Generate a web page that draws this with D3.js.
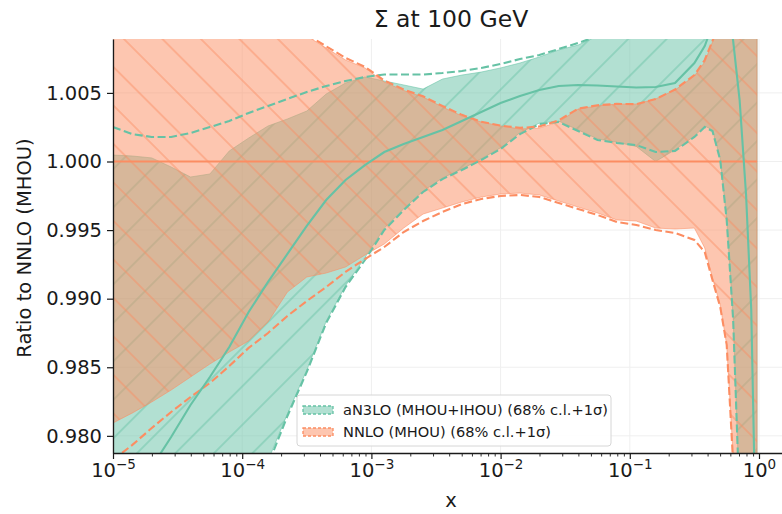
<!DOCTYPE html>
<html>
<head>
<meta charset="utf-8">
<script src="https://cdn.jsdelivr.net/npm/d3@7"></script>
<style>
  html, body { margin: 0; padding: 0; background: #fff; }
  svg { display: block; font-family: "DejaVu Sans", sans-serif; }
</style>
</head>
<body>
<svg id="chart" width="782" height="514"></svg>
<script>
// ---- data: ratio of the singlet Σ at Q = 100 GeV to the NNLO (MHOU) central value ----
const logX = [-5.00, -4.85, -4.70, -4.55, -4.40, -4.25, -4.10, -3.95, -3.80, -3.65,
              -3.50, -3.35, -3.20, -3.05, -2.90, -2.75, -2.60, -2.45, -2.30, -2.15,
              -2.00, -1.85, -1.70, -1.55, -1.40, -1.25, -1.10, -0.95, -0.80, -0.65,
              -0.50, -0.42, -0.36, -0.30, -0.25, -0.20, -0.15, -0.10, -0.06, -0.03, -0.015];

// NNLO (MHOU): 68% c.l. band and 1σ band
const nnloHi68 = [1.0160, 1.0155, 1.0150, 1.0143, 1.0136, 1.0128, 1.0120, 1.0112, 1.0104, 1.0096,
                  1.00915, 1.00827, 1.00740, 1.00682, 1.00579, 1.00518, 1.00470, 1.00397, 1.00332, 1.00288,
                  1.00259, 1.00237, 1.00244, 1.00288, 1.00383, 1.00405, 1.00419, 1.00419, 1.00456, 1.00521,
                  1.00623, 1.00725, 1.00871, 1.0100, 1.0110, 1.0120, 1.0130, 1.0140, 1.0150, 1.0160, 1.0170];
const nnloLo68 = [0.98094, 0.98167, 0.98247, 0.98334, 0.98429, 0.98524, 0.98611, 0.98692, 0.98830, 0.99049,
                  0.99158, 0.99187, 0.99231, 0.99318, 0.99399, 0.99515, 0.99617, 0.99661, 0.99705, 0.99741,
                  0.99763, 0.99770, 0.99756, 0.99712, 0.99668, 0.99625, 0.99574, 0.99566, 0.99515, 0.99508,
                  0.99515, 0.99370, 0.99151, 0.98954, 0.98663, 0.9785, 0.9700, 0.9600, 0.9500, 0.9400, 0.9350];
const nnloHi1s = [1.0165, 1.0160, 1.0155, 1.0148, 1.0141, 1.0133, 1.0125, 1.0117, 1.0108, 1.0100,
                  1.00925, 1.00840, 1.00755, 1.00690, 1.00590, 1.00525, 1.00475, 1.00405, 1.00340, 1.00290,
                  1.00262, 1.00245, 1.00255, 1.00300, 1.00385, 1.00410, 1.00420, 1.00418, 1.00455, 1.00525,
                  1.00630, 1.00740, 1.00880, 1.0102, 1.0112, 1.0122, 1.0132, 1.0142, 1.0152, 1.0162, 1.0172];
const nnloLo1s = [0.97824, 0.97934, 0.98057, 0.98174, 0.98283, 0.98385, 0.98509, 0.98641, 0.98750, 0.98874,
                  0.98983, 0.99085, 0.99195, 0.99289, 0.99377, 0.99486, 0.99566, 0.99632, 0.99690, 0.99727,
                  0.99749, 0.99756, 0.99741, 0.99698, 0.99654, 0.99610, 0.99559, 0.99537, 0.99501, 0.99479,
                  0.99428, 0.99340, 0.99136, 0.98939, 0.98663, 0.9780, 0.9700, 0.9600, 0.9500, 0.9400, 0.9350];
const nnloCentral = 1.0;

// aN3LO (MHOU+IHOU): central value, 68% c.l. band and 1σ band
const n3loCentral = [0.9735, 0.97591, 0.97773, 0.97992, 0.98225, 0.98429, 0.98648, 0.98903, 0.99122, 0.99326,
                     0.99530, 0.99719, 0.99865, 0.99974, 1.00069, 1.00128, 1.00179, 1.00230, 1.00295, 1.00361,
                     1.00426, 1.00477, 1.00521, 1.00550, 1.00558, 1.00554, 1.00547, 1.00539, 1.00543, 1.00572,
                     1.00718, 1.00842, 1.00995, 1.0115, 1.0118, 1.0088, 1.00448, 0.99756, 0.98918, 0.9750, 0.9700];
const n3loHi68 = [1.00047, 1.00040, 1.00026, 0.99960, 0.99887, 0.99909, 1.00077, 1.00171, 1.00259, 1.00310,
                  1.00368, 1.00492, 1.00572, 1.00616, 1.00587, 1.00558, 1.00528, 1.00601, 1.00630, 1.00652,
                  1.00682, 1.00718, 1.00762, 1.00813, 1.00849, 1.00915, 1.0098, 1.0104, 1.0110, 1.0116,
                  1.0122, 1.0128, 1.0132, 1.0136, 1.0140, 1.0145, 1.0150, 1.0156, 1.0162, 1.0168, 1.0172];
const n3loLo68 = [0.956, 0.958, 0.960, 0.962, 0.965, 0.968, 0.971, 0.9748, 0.9782, 0.98160,
                  0.98480, 0.98835, 0.99095, 0.99300, 0.99515, 0.99655, 0.99785, 0.99880, 0.99945, 1.00020,
                  1.00100, 1.00210, 1.00280, 1.00295, 1.00230, 1.00165, 1.00140, 1.00110, 1.00000, 1.00085,
                  1.00185, 1.00258, 1.00230, 1.00020, 0.99580, 0.98855, 0.9752, 0.9702, 0.9652, 0.9602, 0.9582];
const n3loHi1s = [1.00251, 1.00200, 1.00179, 1.00179, 1.00208, 1.00251, 1.00295, 1.00354, 1.00405, 1.00456,
                  1.00507, 1.00550, 1.00587, 1.00616, 1.00634, 1.00634, 1.00634, 1.00645, 1.00660, 1.00682,
                  1.00711, 1.00747, 1.00776, 1.00820, 1.00864, 1.00915, 1.0099, 1.0105, 1.0111, 1.0117,
                  1.0123, 1.0129, 1.0133, 1.0137, 1.0141, 1.0146, 1.0151, 1.0157, 1.0163, 1.0169, 1.0173];
const n3loLo1s = [0.955, 0.957, 0.959, 0.961, 0.964, 0.967, 0.970, 0.97423, 0.97788, 0.98145,
                  0.98466, 0.98823, 0.99085, 0.99282, 0.99501, 0.99646, 0.99778, 0.99872, 0.99938, 1.00011,
                  1.00091, 1.00200, 1.00273, 1.00288, 1.00222, 1.00157, 1.00135, 1.00120, 1.00069, 1.00077,
                  1.00179, 1.00251, 1.00222, 1.00011, 0.99574, 0.98845, 0.9750, 0.9700, 0.9650, 0.9600, 0.9580];

const yTicks = [0.980, 0.985, 0.990, 0.995, 1.000, 1.005];
const xTickExps = [-5, -4, -3, -2, -1, 0];
const seriesLabels = ["aN3LO (MHOU+IHOU) (68% c.l.+1σ)", "NNLO (MHOU) (68% c.l.+1σ)"];
const titleText = "Σ at 100 GeV";
const xLabel = "x";
const yLabel = "Ratio to NNLO (MHOU)";

const GREEN = "#66c2a5", ORANGE = "#fc8d62";

// ---- layout ----
const svg = d3.select("#chart");
const L = 113, T = 39, R = 789, B = 453;
const x = d3.scaleLog().domain([1e-5, Math.pow(10, 0.2322)]).range([L, R]);
const y = d3.scaleLinear().domain([0.97875, 1.00893]).range([B, T]);
const xs = logX.map(l => Math.pow(10, l));

const defs = svg.append("defs");
defs.append("clipPath").attr("id", "plotClip")
  .append("rect").attr("x", L).attr("y", T).attr("width", R - L).attr("height", B - T);

function hatch(id, color, angle, shift) {
  const s = 27.22;
  const p = defs.append("pattern").attr("id", id)
    .attr("patternUnits", "userSpaceOnUse")
    .attr("width", s).attr("height", s)
    .attr("patternTransform", `translate(${shift},0) rotate(${angle})`);
  p.append("line").attr("x1", s / 2).attr("x2", s / 2).attr("y1", -2).attr("y2", s + 2)
    .attr("stroke", color).attr("stroke-width", 1).attr("stroke-opacity", 0.85);
}
hatch("hatchGreen", GREEN, 45, -6.5);    // "/" hatching
hatch("hatchOrange", ORANGE, -45, -11.3); // "\" hatching

// ---- grid ----
const grid = svg.append("g").attr("stroke", "#efefef").attr("stroke-width", 1);
xTickExps.forEach(e => grid.append("line")
  .attr("x1", x(Math.pow(10, e))).attr("x2", x(Math.pow(10, e))).attr("y1", T).attr("y2", B));
yTicks.forEach(v => grid.append("line")
  .attr("x1", L).attr("x2", R).attr("y1", y(v)).attr("y2", y(v)));

const plot = svg.append("g").attr("clip-path", "url(#plotClip)");

function band(lo, hi, color, hatchId) {
  const area = d3.area().x((d, i) => x(xs[i])).y0((d, i) => y(lo[i])).y1((d, i) => y(hi[i]));
  plot.append("path").attr("d", area(xs))
    .attr("fill", color).attr("fill-opacity", 0.5)
    .attr("stroke", color).attr("stroke-opacity", 0.55).attr("stroke-width", 1);
  plot.append("path").attr("d", area(xs)).attr("fill", `url(#${hatchId})`);
}
band(n3loLo68, n3loHi68, GREEN, "hatchGreen");
band(nnloLo68, nnloHi68, ORANGE, "hatchOrange");

const lineOf = vals => d3.line().x((d, i) => x(xs[i])).y((d, i) => y(vals[i]))(xs);

// NNLO central (ratio to itself)
plot.append("line")
  .attr("x1", x(xs[0])).attr("x2", x(xs[xs.length - 1]))
  .attr("y1", y(nnloCentral)).attr("y2", y(nnloCentral))
  .attr("stroke", ORANGE).attr("stroke-width", 2);

const dashed = [[n3loHi1s, GREEN], [n3loLo1s, GREEN], [nnloHi1s, ORANGE], [nnloLo1s, ORANGE]];
dashed.forEach(([vals, c]) => plot.append("path").attr("d", lineOf(vals))
  .attr("fill", "none").attr("stroke", c).attr("stroke-width", 2.1)
  .attr("stroke-dasharray", "8,3.5"));

plot.append("path").attr("d", lineOf(n3loCentral))
  .attr("fill", "none").attr("stroke", GREEN).attr("stroke-width", 2.1);

// ---- axes ----
const TXT = "#1a1a1a";
const yAxis = svg.append("g").attr("transform", `translate(${L},0)`)
  .call(d3.axisLeft(y).tickValues(yTicks).tickFormat(d3.format(".3f"))
        .tickSize(6).tickSizeOuter(0).tickPadding(5));
yAxis.select(".domain").attr("stroke", TXT).attr("stroke-width", 1.3);
yAxis.selectAll(".tick line").attr("stroke", TXT).attr("stroke-width", 1.2);
yAxis.selectAll(".tick text").attr("font-size", 19.5).attr("fill", TXT)
  .attr("font-family", "DejaVu Sans");

const minorTicks = [];
for (let e = -5; e <= 0; e++) for (let m = 2; m <= 9; m++) {
  const v = m * Math.pow(10, e);
  if (v <= x.domain()[1]) minorTicks.push(v);
}
const xMinor = svg.append("g").attr("transform", `translate(0,${B})`)
  .call(d3.axisBottom(x).tickValues(minorTicks).tickFormat("").tickSize(3.5).tickSizeOuter(0));
xMinor.select(".domain").remove();
xMinor.selectAll(".tick line").attr("stroke", TXT).attr("stroke-width", 0.9);

const xAxis = svg.append("g").attr("transform", `translate(0,${B})`)
  .call(d3.axisBottom(x).tickValues(xTickExps.map(e => Math.pow(10, e)))
        .tickFormat("").tickSize(6).tickSizeOuter(0));
xAxis.select(".domain").attr("stroke", TXT).attr("stroke-width", 1.3);
xAxis.selectAll(".tick line").attr("stroke", TXT).attr("stroke-width", 1.2);
xAxis.selectAll(".tick").each(function (d) {
  const e = Math.round(Math.log10(d));
  const t = d3.select(this).append("text")
    .attr("y", 24).attr("text-anchor", "middle")
    .attr("font-size", 19.5).attr("fill", TXT).attr("font-family", "DejaVu Sans");
  t.append("tspan").text("10");
  t.append("tspan").attr("font-size", 13.5).attr("dy", -8)
    .text(e < 0 ? "\u2212" + Math.abs(e) : String(e));
});

// ---- labels ----
svg.append("text").attr("x", 451).attr("y", 27).attr("text-anchor", "middle")
  .attr("font-size", 23.5).attr("fill", TXT).text(titleText);
svg.append("text").attr("x", 451).attr("y", 507).attr("text-anchor", "middle")
  .attr("font-size", 19.5).attr("fill", TXT).text(xLabel);
svg.append("text").attr("transform", `translate(31,${(T + B) / 2 + 2}) rotate(-90)`)
  .attr("text-anchor", "middle").attr("font-size", 19.5).attr("fill", TXT).text(yLabel);

// ---- legend ----
const lg = svg.append("g").attr("transform", "translate(297,395)");
lg.append("rect").attr("width", 314).attr("height", 51).attr("rx", 3)
  .attr("fill", "#fff").attr("fill-opacity", 0.85).attr("stroke", "#d6d6d6");
[[seriesLabels[0], GREEN], [seriesLabels[1], ORANGE]].forEach(([label, c], i) => {
  const cy = 15 + i * 22;
  lg.append("rect").attr("x", 6).attr("y", cy - 4).attr("width", 30).attr("height", 8)
    .attr("fill", c).attr("fill-opacity", 0.5)
    .attr("stroke", c).attr("stroke-width", 1.3).attr("stroke-dasharray", "3,2");
  lg.append("text").attr("x", 46).attr("y", cy + 5).attr("font-size", 14.6)
    .attr("fill", TXT).text(label);
});
</script>
</body>
</html>
